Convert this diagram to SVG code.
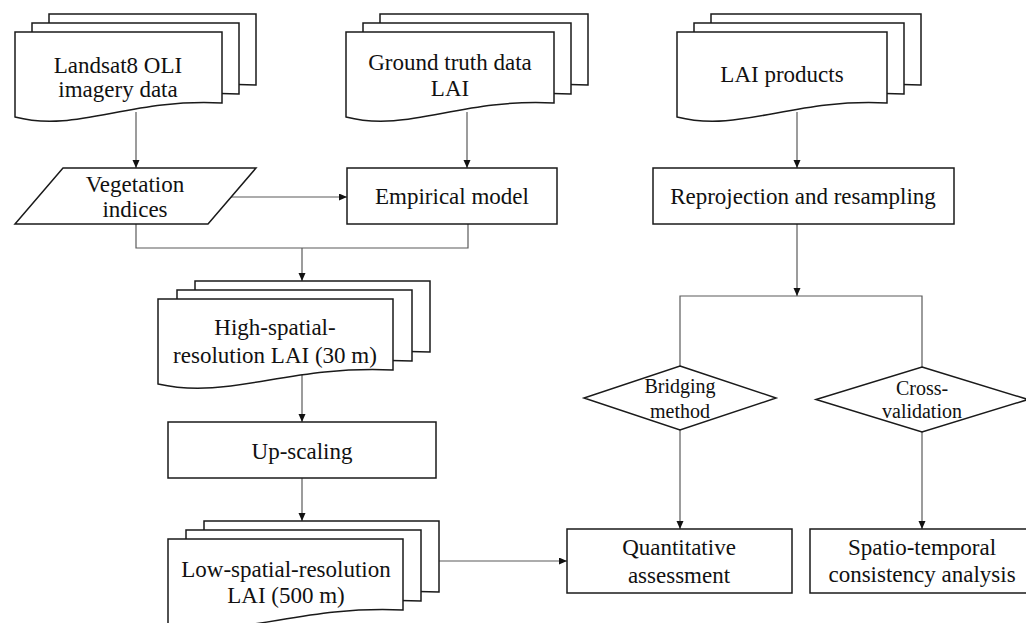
<svg xmlns="http://www.w3.org/2000/svg" width="1026" height="623" viewBox="0 0 1026 623" font-family="Liberation Serif, Times New Roman, serif">
<style>
.n{fill:#fff;stroke:#1a1a1a;stroke-width:1.5}
.c{fill:none;stroke:#5a5a5a;stroke-width:1.2}
.t{font-family:"Liberation Serif",serif;font-size:23px;fill:#111;text-anchor:middle}
.s{font-size:20px}
</style>
<defs>
<marker id="a" markerWidth="9" markerHeight="8" refX="8" refY="3.5" orient="auto" markerUnits="userSpaceOnUse"><path d="M0,0 L8,3.5 L0,7 z" fill="#111"/></marker>
</defs>
<rect width="1026" height="623" fill="#fff"/>
<g id="connectors">
<path class="c" d="M136,112 V168" marker-end="url(#a)"/>
<path class="c" d="M467,112 V168" marker-end="url(#a)"/>
<path class="c" d="M797,112 V168" marker-end="url(#a)"/>
<path class="c" d="M225,197 H347" marker-end="url(#a)"/>
<path class="c" d="M136,224 V248 H468 V224"/>
<path class="c" d="M302,248 V281" marker-end="url(#a)"/>
<path class="c" d="M302,372 V422" marker-end="url(#a)"/>
<path class="c" d="M302,478 V521" marker-end="url(#a)"/>
<path class="c" d="M430,561 H567" marker-end="url(#a)"/>
<path class="c" d="M797,224 V296" marker-end="url(#a)"/>
<path class="c" d="M680,366 V296 H922 V367"/>
<path class="c" d="M680,430 V529" marker-end="url(#a)"/>
<path class="c" d="M922,432 V529" marker-end="url(#a)"/>
</g>
<g id="landsat">
<path class="n" d="M49,14 H256 V85 C163,80 111,115 49,99 Z"/>
<path class="n" d="M32,23 H239 V94 C146,89 94,124 32,108 Z"/>
<path class="n" d="M15,32 H222 V103 C129,98 77,133 15,117 Z"/>
<text class="t" x="118" y="73">Landsat8 OLI</text>
<text class="t" x="118" y="97">imagery data</text>
</g>
<g id="ground">
<path class="n" d="M380,14 H588 V85 C494,80 442,115 380,99 Z"/>
<path class="n" d="M363,23 H571 V94 C477,89 425,124 363,108 Z"/>
<path class="n" d="M346,32 H554 V103 C460,98 408,133 346,117 Z"/>
<text class="t" x="450" y="70">Ground truth data</text>
<text class="t" x="450" y="96">LAI</text>
</g>
<g id="laiprod">
<path class="n" d="M711,14 H921 V85 C827,80 774,115 711,99 Z"/>
<path class="n" d="M694,23 H904 V94 C810,89 757,124 694,108 Z"/>
<path class="n" d="M677,32 H887 V103 C793,98 740,133 677,117 Z"/>
<text class="t" x="782" y="82">LAI products</text>
</g>
<g id="vegetation">
<path class="n" d="M63,168 H256 L208,224 H15 Z"/>
<text class="t" x="135" y="192">Vegetation</text>
<text class="t" x="135" y="217">indices</text>
</g>
<g id="empirical">
<rect class="n" x="347" y="168" width="210" height="56"/>
<text class="t" x="452" y="204">Empirical model</text>
</g>
<g id="reprojection">
<rect class="n" x="653" y="168" width="301" height="56"/>
<text class="t" x="803" y="204">Reprojection and resampling</text>
</g>
<g id="highres">
<path class="n" d="M195,281 H430 V352 C324,347 266,382 195,366 Z"/>
<path class="n" d="M177,290 H412 V361 C306,356 248,391 177,375 Z"/>
<path class="n" d="M158,299 H393 V370 C287,365 229,400 158,384 Z"/>
<text class="t" x="275" y="335">High-spatial-</text>
<text class="t" x="275" y="363">resolution LAI (30 m)</text>
</g>
<g id="upscaling">
<rect class="n" x="168" y="422" width="268" height="56"/>
<text class="t" x="302" y="459">Up-scaling</text>
</g>
<g id="lowres">
<path class="n" d="M204,521 H439 V592 C333,587 275,622 204,606 Z"/>
<path class="n" d="M186,530 H421 V601 C315,596 257,631 186,615 Z"/>
<path class="n" d="M168,539 H403 V610 C297,605 239,640 168,624 Z"/>
<text class="t" x="286" y="577">Low-spatial-resolution</text>
<text class="t" x="286" y="603">LAI (500 m)</text>
</g>
<g id="bridging">
<path class="n" d="M680,366 L776,398 L680,430 L584,398 Z"/>
<text class="t s" x="680" y="393">Bridging</text>
<text class="t s" x="680" y="418">method</text>
</g>
<g id="crossval">
<path class="n" d="M922,367 L1028,399.5 L922,432 L816,399.5 Z"/>
<text class="t s" x="922" y="395">Cross-</text>
<text class="t s" x="922" y="418">validation</text>
</g>
<g id="quantitative">
<rect class="n" x="567" y="529" width="225" height="64"/>
<text class="t" x="679" y="555">Quantitative</text>
<text class="t" x="679" y="583">assessment</text>
</g>
<g id="spatio">
<rect class="n" x="810" y="529" width="224" height="64"/>
<text class="t" x="922" y="555">Spatio-temporal</text>
<text class="t" x="922" y="582">consistency analysis</text>
</g>
</svg>
